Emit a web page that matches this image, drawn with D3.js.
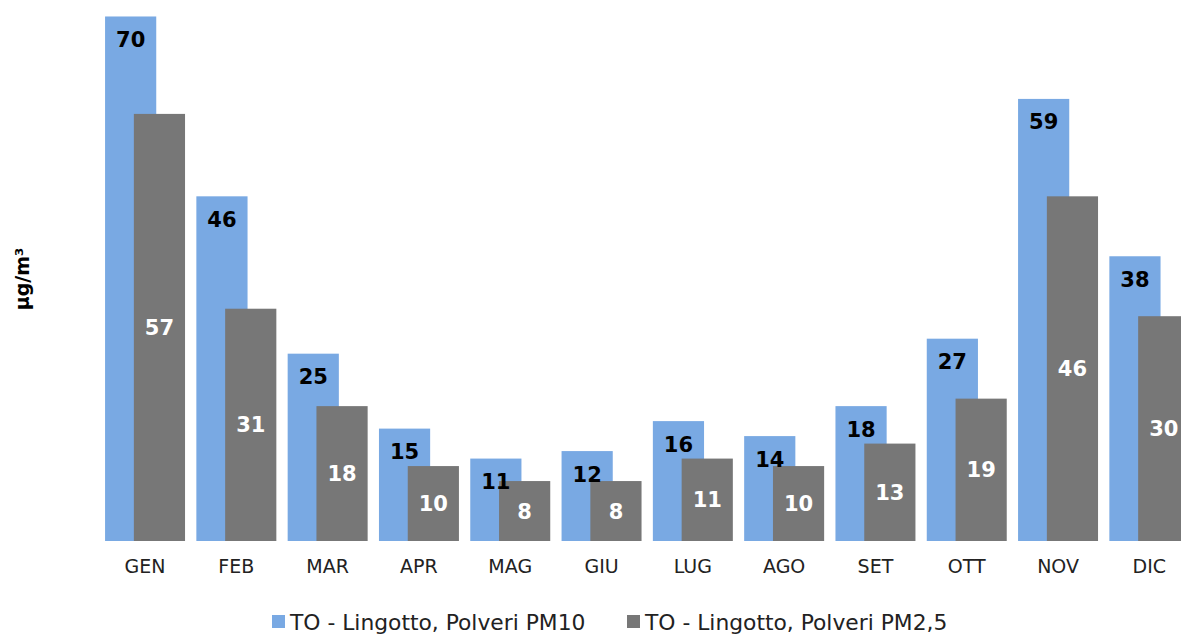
<!DOCTYPE html>
<html>
<head>
<meta charset="utf-8">
<script src="https://cdn.jsdelivr.net/npm/d3@7"></script>
<style>
  html, body { margin: 0; padding: 0; background: #fff; }
  svg { display: block; font-family: "DejaVu Sans", sans-serif; }
</style>
</head>
<body>
<svg id="chart" width="1181" height="634"></svg>
<script>
// Monthly mean concentrations, TO - Lingotto station
const months = ["GEN", "FEB", "MAR", "APR", "MAG", "GIU", "LUG", "AGO", "SET", "OTT", "NOV", "DIC"];
const pm10 = [70, 46, 25, 15, 11, 12, 16, 14, 18, 27, 59, 38];
const pm25 = [57, 31, 18, 10, 8, 8, 11, 10, 13, 19, 46, 30];
const seriesNames = ["TO - Lingotto, Polveri PM10", "TO - Lingotto, Polveri PM2,5"];
const yTitle = "µg/m³";

const colors = ["#79A9E3", "#777777"];
const baseY = 541;

const svg = d3.select("#chart");

const x = d3.scaleBand()
  .domain(months)
  .range([99.4, 99.4 + 12 * 91.3])
  .paddingInner(0.124)
  .paddingOuter(0.062);

const y = d3.scaleLinear().domain([0, 72.2]).range([baseY, 0]);

const bw = x.bandwidth();
const barW = bw * 0.64;
const offset2 = bw - barW;

const plot = svg.append("g");

// PM10 bars (drawn first, PM2.5 overlaps them)
plot.selectAll("rect.pm10")
  .data(months.map((m, i) => ({ m, v: pm10[i] })))
  .join("rect")
  .attr("class", "pm10")
  .attr("x", d => x(d.m))
  .attr("y", d => y(d.v))
  .attr("width", barW)
  .attr("height", d => baseY - y(d.v))
  .attr("fill", colors[0]);

plot.selectAll("rect.pm25")
  .data(months.map((m, i) => ({ m, v: pm25[i] })))
  .join("rect")
  .attr("class", "pm25")
  .attr("x", d => x(d.m) + offset2)
  .attr("y", d => y(d.v))
  .attr("width", barW)
  .attr("height", d => baseY - y(d.v))
  .attr("fill", colors[1]);

// value labels
plot.selectAll("text.l10")
  .data(months.map((m, i) => ({ m, v: pm10[i] })))
  .join("text")
  .attr("class", "l10")
  .attr("x", d => x(d.m) + barW / 2)
  .attr("y", d => y(d.v) + 23)
  .attr("dy", "0.36em")
  .attr("text-anchor", "middle")
  .attr("font-weight", "bold")
  .attr("font-size", 21)
  .attr("fill", "#000")
  .text(d => d.v);

plot.selectAll("text.l25")
  .data(months.map((m, i) => ({ m, v: pm25[i] })))
  .join("text")
  .attr("class", "l25")
  .attr("x", d => x(d.m) + offset2 + barW / 2)
  .attr("y", d => (y(d.v) + baseY) / 2)
  .attr("dy", "0.36em")
  .attr("text-anchor", "middle")
  .attr("font-weight", "bold")
  .attr("font-size", 21)
  .attr("fill", "#fff")
  .text(d => d.v);

// x axis labels
const xAxis = d3.axisBottom(x).tickSize(0).tickPadding(19);
const gx = svg.append("g").attr("transform", `translate(0,${baseY})`).call(xAxis);
gx.select(".domain").remove();
gx.selectAll("text")
  .attr("font-size", 19)
  .attr("font-family", "DejaVu Sans, sans-serif")
  .attr("fill", "#222");

// y title
svg.append("text")
  .attr("transform", `translate(29,279) rotate(-90)`)
  .attr("text-anchor", "middle")
  .attr("font-weight", "bold")
  .attr("font-size", 19)
  .attr("fill", "#000")
  .text(yTitle);

// legend
const legendItems = [
  { name: seriesNames[0], color: colors[0], x: 272 },
  { name: seriesNames[1], color: colors[1], x: 627 }
];
const lg = svg.append("g");
legendItems.forEach(it => {
  lg.append("rect")
    .attr("x", it.x).attr("y", 615)
    .attr("width", 13).attr("height", 13)
    .attr("fill", it.color);
  lg.append("text")
    .attr("x", it.x + 18).attr("y", 622)
    .attr("dy", "0.36em")
    .attr("font-size", 21.8)
    .attr("fill", "#222")
    .text(it.name);
});
</script>
</body>
</html>
